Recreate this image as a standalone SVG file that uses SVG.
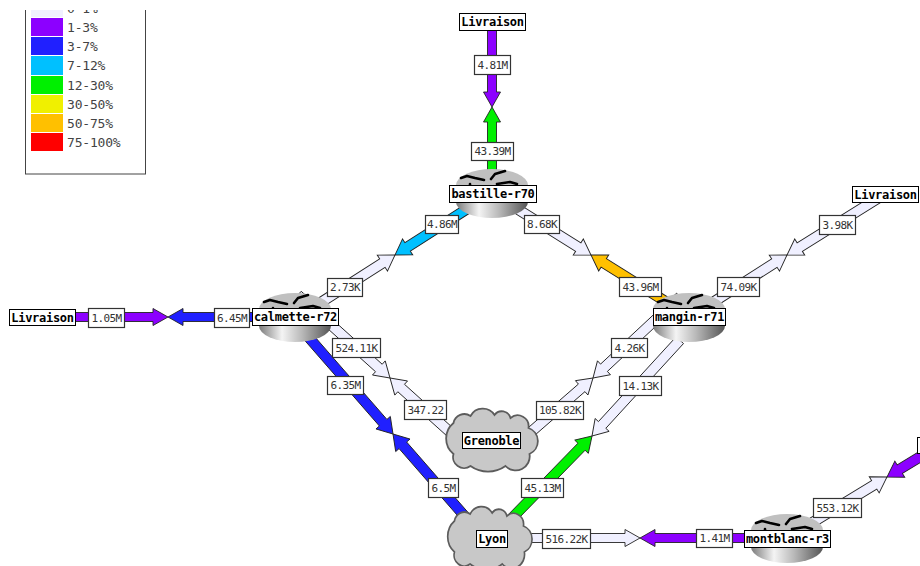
<svg xmlns="http://www.w3.org/2000/svg" width="920" height="566" viewBox="0 0 920 566">
<style>
.a{stroke:#222;stroke-width:.9;stroke-linejoin:miter}
.c0{fill:#f0f0ff}.c1{fill:#8c00ff}.c2{fill:#2020ff}.c3{fill:#00c0ff}.c4{fill:#00f000}.c6{fill:#ffc000}.c7{fill:#ff0000}.c5{fill:#f0f000}
.vb{fill:#fff;stroke:#333;stroke-width:1.2}
.nb{fill:#fff;stroke:#000;stroke-width:1}
.v{font:11px "DejaVu Sans Mono","Liberation Mono",monospace;letter-spacing:-.6px;fill:#333;text-anchor:middle}
.n{font:bold 12px "DejaVu Sans Mono","Liberation Mono",monospace;letter-spacing:-.3px;fill:#000;text-anchor:middle}
.l{font:13px "DejaVu Sans Mono","Liberation Mono",monospace;letter-spacing:-.2px;fill:#444}
.m{fill:none;stroke:#000;stroke-width:2.6;stroke-linecap:round;stroke-linejoin:round}
</style>
<defs>
<linearGradient id="cyl" x1="0" x2="1" y1="0" y2="0">
<stop offset="0" stop-color="#7a7a7a"/><stop offset=".32" stop-color="#f4f4f4"/><stop offset=".6" stop-color="#b8b8b8"/><stop offset="1" stop-color="#555"/>
</linearGradient>
<g id="router">
<path d="M-36,16V33A36,16 0 0 0 36,33V16Z" fill="url(#cyl)"/>
<ellipse cx="0" cy="16" rx="36" ry="16" fill="#c0c0c0"/>
<path class="m" d="M-31,9-25,7-17,9-8,11M-1,10 3,5 13,2M5,15 18,13 25,15M-22,15-22,18"/>
</g>
<path id="cloud" d="M-37,-17A11,11 0 0 1-20,-24A14,14 0 0 1 4,-25A9,9 0 0 1 20,-22A11,11 0 0 1 38,-12A14,14 0 0 1 39,14A14,14 0 0 1 15,26A30,30 0 0 1-20,26A11,11 0 0 1-37,14A20,20 0 0 1-37,-17Z" fill="#c8c8c8" stroke="#5c5c5c" stroke-width="1.8"/>
<clipPath id="lg"><rect x="0" y="10" width="160" height="170"/></clipPath>
</defs>
<rect width="920" height="566" fill="#fff"/>
<g id="legend" clip-path="url(#lg)">
<rect x="25.500" y="4" width="120" height="170" fill="#fff" stroke="#444" stroke-width="1"/>
<rect class="c0" x="31" y="-1" width="32" height="18"/><text class="l" x="67" y="13">0-1%</text>
<rect class="c1" x="31" y="18" width="32" height="18"/><text class="l" x="67" y="32">1-3%</text>
<rect class="c2" x="31" y="37" width="32" height="18"/><text class="l" x="67" y="51">3-7%</text>
<rect class="c3" x="31" y="56" width="32" height="19"/><text class="l" x="67" y="70">7-12%</text>
<rect class="c4" x="31" y="76" width="32" height="18"/><text class="l" x="67" y="90">12-30%</text>
<rect class="c5" x="31" y="95" width="32" height="18"/><text class="l" x="67" y="109">30-50%</text>
<rect class="c6" x="31" y="114" width="32" height="18"/><text class="l" x="67" y="128">50-75%</text>
<rect class="c7" x="31" y="133" width="32" height="18"/><text class="l" x="67" y="147">75-100%</text>
</g>
<g id="connectors">
<path class="a c1" transform="translate(492 107) rotate(90)" d="M-85,-4.500H-15V-8.500L0,0-15,8.500V4.500H-85Z"/>
<path class="a c4" transform="translate(492 107) rotate(-90)" d="M-85,-4.500H-15V-8.500L0,0-15,8.500V4.500H-85Z"/>
<path class="a c1" transform="translate(168 317)" d="M-126,-4.500H-15V-8.500L0,0-15,8.500V4.500H-126Z"/>
<path class="a c2" transform="translate(168 317) rotate(180)" d="M-128,-4.500H-15V-8.500L0,0-15,8.500V4.500H-128Z"/>
<path class="a c3" transform="translate(395 255) rotate(147.400)" d="M-115,-5H-15V-9.500L0,0-15,9.500V5H-115Z"/>
<path class="a c0" transform="translate(395 255) rotate(-32.600)" d="M-115,-5H-15V-9.500L0,0-15,9.500V5H-115Z"/>
<path class="a c0" transform="translate(591 255) rotate(32)" d="M-117,-5H-15V-9.500L0,0-15,9.500V5H-117Z"/>
<path class="a c6" transform="translate(591 255) rotate(212)" d="M-117,-5H-15V-9.500L0,0-15,9.500V5H-117Z"/>
<path class="a c0" transform="translate(787 255) rotate(-32.600)" d="M-115,-5H-15V-9.500L0,0-15,9.500V5H-115Z"/>
<path class="a c0" transform="translate(787 255) rotate(148.100)" d="M-115,-5H-15V-9.500L0,0-15,9.500V5H-115Z"/>
<path class="a c0" transform="translate(390 378) rotate(42)" d="M-124,-5H-15V-9.500L0,0-15,9.500V5H-124Z"/>
<path class="a c0" transform="translate(390 378) rotate(222)" d="M-122,-5H-15V-9.500L0,0-15,9.500V5H-122Z"/>
<path class="a c2" transform="translate(393 434) rotate(48.900)" d="M-147,-5H-15V-9.500L0,0-15,9.500V5H-147Z"/>
<path class="a c2" transform="translate(393 434) rotate(228.900)" d="M-147,-5H-15V-9.500L0,0-15,9.500V5H-147Z"/>
<path class="a c0" transform="translate(593 378) rotate(-41)" d="M-110,-5H-15V-9.500L0,0-15,9.500V5H-110Z"/>
<path class="a c0" transform="translate(593 378) rotate(137)" d="M-119,-5H-15V-9.500L0,0-15,9.500V5H-119Z"/>
<path class="a c4" transform="translate(592 436) rotate(-45.700)" d="M-117,-5H-15V-9.500L0,0-15,9.500V5H-117Z"/>
<path class="a c0" transform="translate(592 436) rotate(132.500)" d="M-130,-5H-15V-9.500L0,0-15,9.500V5H-130Z"/>
<path class="a c0" transform="translate(640 538)" d="M-149,-4.500H-15V-8.500L0,0-15,8.500V4.500H-149Z"/>
<path class="a c1" transform="translate(640 538) rotate(180)" d="M-147,-4.500H-15V-8.500L0,0-15,8.500V4.500H-147Z"/>
<path class="a c0" transform="translate(887 477) rotate(-31.400)" d="M-117,-5H-15V-9.500L0,0-15,9.500V5H-117Z"/>
<path class="a c1" transform="translate(887 477) rotate(148.600)" d="M-115,-5H-15V-9.500L0,0-15,9.500V5H-115Z"/>
</g>
<g id="node-livraison-top"><rect class="nb" x="459.500" y="13.500" width="66" height="17"/><text class="n" x="492.500" y="26">Livraison</text></g>
<g id="node-livraison-left"><rect class="nb" x="9.500" y="309.500" width="66" height="16"/><text class="n" x="42.500" y="322">Livraison</text></g>
<g id="node-livraison-right"><rect class="nb" x="852.500" y="186.500" width="66" height="16"/><text class="n" x="885.500" y="199">Livraison</text></g>
<g id="node-livraison-edge"><rect class="nb" x="917.500" y="437.500" width="66" height="16"/></g>
<g id="node-bastille"><use href="#router" x="492" y="169"/><rect class="nb" x="449.500" y="185.500" width="87" height="17"/><text class="n" x="493" y="198">bastille-r70</text></g>
<g id="node-calmette"><use href="#router" x="295" y="293"/><rect class="nb" x="252.500" y="308.500" width="86" height="17"/><text class="n" x="295.500" y="321">calmette-r72</text></g>
<g id="node-mangin"><use href="#router" x="689" y="293"/><rect class="nb" x="653.500" y="308.500" width="72" height="17"/><text class="n" x="689.500" y="321">mangin-r71</text></g>
<g id="node-montblanc"><use href="#router" x="787" y="514"/><rect class="nb" x="744.500" y="530.500" width="86" height="17"/><text class="n" x="787.500" y="543">montblanc-r3</text></g>
<g id="node-grenoble"><use href="#cloud" transform="translate(490.500 440)"/><rect class="nb" x="462.500" y="432.500" width="58" height="16"/><text class="n" x="491.500" y="445">Grenoble</text></g>
<g id="node-lyon"><use href="#cloud" transform="translate(488.500 538) scale(.92 1)"/><rect class="nb" x="476.500" y="530.500" width="31" height="17"/><text class="n" x="492" y="543">Lyon</text></g>
<g id="link-labels">
<rect class="vb" x="474.500" y="55.500" width="36" height="19"/><text class="v" x="492.500" y="69">4.81M</text>
<rect class="vb" x="471.500" y="142.500" width="42" height="18"/><text class="v" x="492.500" y="155">43.39M</text>
<rect class="vb" x="425.500" y="215.500" width="33" height="18"/><text class="v" x="442" y="228">4.86M</text>
<rect class="vb" x="524.500" y="215.500" width="35" height="18"/><text class="v" x="542" y="228">8.68K</text>
<rect class="vb" x="327.500" y="278.500" width="35" height="18"/><text class="v" x="345" y="291">2.73K</text>
<rect class="vb" x="619.500" y="277.500" width="42" height="19"/><text class="v" x="640.500" y="291">43.96M</text>
<rect class="vb" x="717.500" y="277.500" width="42" height="19"/><text class="v" x="738.500" y="291">74.09K</text>
<rect class="vb" x="819.500" y="215.500" width="36" height="19"/><text class="v" x="837.500" y="229">3.98K</text>
<rect class="vb" x="88.500" y="308.500" width="36" height="19"/><text class="v" x="106.500" y="322">1.05M</text>
<rect class="vb" x="214.500" y="308.500" width="35" height="19"/><text class="v" x="232" y="322">6.45M</text>
<rect class="vb" x="332.500" y="338.500" width="48" height="19"/><text class="v" x="356.500" y="352">524.11K</text>
<rect class="vb" x="327.500" y="376.500" width="36" height="18"/><text class="v" x="345.500" y="389">6.35M</text>
<rect class="vb" x="404.500" y="400.500" width="42" height="19"/><text class="v" x="425.500" y="414">347.22</text>
<rect class="vb" x="536.500" y="401.500" width="47" height="18"/><text class="v" x="560" y="414">105.82K</text>
<rect class="vb" x="611.500" y="338.500" width="36" height="19"/><text class="v" x="629.500" y="352">4.26K</text>
<rect class="vb" x="619.500" y="376.500" width="42" height="19"/><text class="v" x="640.500" y="390">14.13K</text>
<rect class="vb" x="428.500" y="478.500" width="30" height="19"/><text class="v" x="443.500" y="492">6.5M</text>
<rect class="vb" x="521.500" y="478.500" width="42" height="19"/><text class="v" x="542.500" y="492">45.13M</text>
<rect class="vb" x="542.500" y="529.500" width="48" height="19"/><text class="v" x="566.500" y="543">516.22K</text>
<rect class="vb" x="696.500" y="529.500" width="36" height="18"/><text class="v" x="714.500" y="542">1.41M</text>
<rect class="vb" x="813.500" y="498.500" width="48" height="19"/><text class="v" x="837.500" y="512">553.12K</text>
</g>
</svg>
